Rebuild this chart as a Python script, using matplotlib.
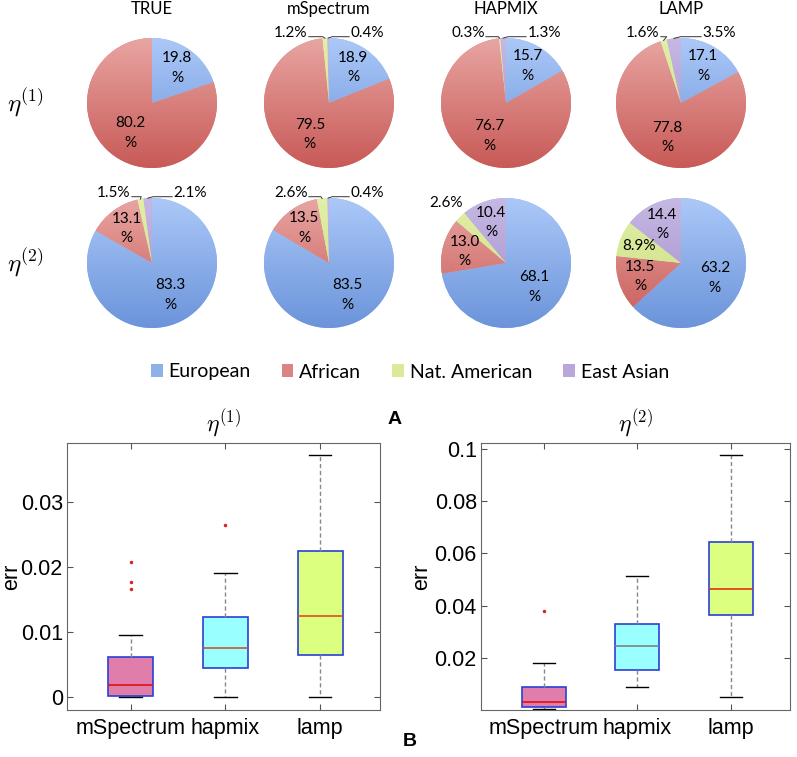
import numpy as np
import matplotlib
matplotlib.use('Agg')
import matplotlib.pyplot as plt
from matplotlib.patches import Patch
from matplotlib.colors import to_rgb

plt.rcParams['mathtext.fontset'] = 'cm'

# ---- data ----
methods = ['TRUE', 'mSpectrum', 'HAPMIX', 'LAMP']
groups = ['European', 'African', 'Nat. American', 'East Asian']
eta1 = [[19.8, 80.2, 0.0, 0.0],
        [18.9, 79.5, 1.2, 0.4],
        [15.7, 76.7, 0.3, 1.3],
        [17.1, 77.8, 1.6, 3.5]]
eta2 = [[83.3, 13.1, 1.5, 2.1],
        [83.5, 13.5, 2.6, 0.4],
        [68.1, 13.0, 2.6, 10.4],
        [63.2, 13.5, 8.9, 14.4]]
pie_colors = ['#8fb1ea', '#da8583', '#dbea98', '#b8a7d8']
# lighter top / darker bottom shading of each slice colour
pie_top = ['#abc8f8', '#e8a5a2', '#e2f0a8', '#c6b8e3']
pie_bot = ['#6b94da', '#c85a57', '#c8dc7e', '#a18bca']

box_names = ['mSpectrum', 'hapmix', 'lamp']
# (whislo, q1, med, q3, whishi, fliers)
err1 = [(0.0, 0.0002, 0.0018, 0.0062, 0.0096, [0.0208, 0.0177, 0.0166]),
        (0.0, 0.0045, 0.0075, 0.0123, 0.0191, [0.0265]),
        (0.0, 0.0065, 0.0124, 0.0225, 0.0372, [])]
err2 = [(0.0003, 0.0011, 0.0031, 0.0088, 0.0179, [0.0378]),
        (0.0090, 0.0154, 0.0247, 0.0330, 0.0512, []),
        (0.0048, 0.0364, 0.0464, 0.0645, 0.0978, [])]
box_colors = ['#e07daa', '#99ffff', '#ddff80']

W, H = 797, 757
fig = plt.figure(figsize=(W / 100, H / 100), dpi=100)

pie_font = 'Lato'
R = 65.0
cxs = [152, 329, 506, 681]
cys = [103, 263]


def add_px_axes(x0, y0, x1, y1):
    return fig.add_axes([x0 / W, 1 - y1 / H, (x1 - x0) / W, (y1 - y0) / H])


def gradient(c_top, c_bot, n=128):
    t = np.linspace(0, 1, n)[:, None]
    a, b = np.array(to_rgb(c_top)), np.array(to_rgb(c_bot))
    return (a[None, :] * (1 - t) + b[None, :] * t)[:, None, :]


def draw_pie(cx, cy, vals):
    S = 180
    ax = add_px_axes(cx - S / 2, cy - S / 2, cx + S / 2, cy + S / 2)
    wedges, _ = ax.pie(vals, colors=pie_colors, startangle=90, counterclock=False,
                       radius=1, wedgeprops=dict(edgecolor='none', linewidth=0))
    L = S / (2 * R)
    for k, w in enumerate(wedges):
        im = ax.imshow(gradient(pie_top[k], pie_bot[k]), extent=(-1, 1, -1, 1),
                       aspect='auto', interpolation='bilinear', zorder=w.get_zorder() + 0.1)
        im.set_clip_path(w)
    ax.set_xlim(-L, L); ax.set_ylim(-L, L); ax.axis('off')
    tot = sum(vals)
    for i, (w, v) in enumerate(zip(wedges, vals)):
        if v <= 0:
            continue
        deg = ((w.theta1 + w.theta2) / 2) % 360
        th = np.deg2rad(deg)
        p = 100 * v / tot
        if v >= 10:
            r = 0.57 if p > 40 else 0.66
            ax.text(r * np.cos(th), r * np.sin(th), f'{v:.1f}\n%', ha='center', va='center',
                    fontsize=11, family=pie_font, linespacing=1.5, zorder=5)
        elif v >= 5:
            ax.text(0.7 * np.cos(th), 0.7 * np.sin(th), f'{v:.1f}%', ha='center', va='center',
                    fontsize=11, family=pie_font, zorder=5)
        elif abs(deg - 90) < 25:
            side = -1 if i == 2 else 1
            ax.text(side * 0.33, 0.97, f'{v:.1f}%', ha='right' if side < 0 else 'left',
                    va='bottom', fontsize=11, family=pie_font, zorder=5)
            ax.plot([side * 0.31, (side * 0.1 + np.cos(th)) * 0.6, np.cos(th)],
                    [1.02, 1.02, np.sin(th)], color='#333333', lw=0.7, zorder=5)
        else:
            ax.text(1.3 * np.cos(th), 1.3 * np.sin(th), f'{v:.1f}%', ha='center', va='center',
                    fontsize=11, family=pie_font, zorder=5)


for j, m in enumerate(methods):
    fig.text(cxs[j] / W, 1 - 9 / H, m, ha='center', va='center', fontsize=12, family=pie_font)
    draw_pie(cxs[j], cys[0], eta1[j])
    draw_pie(cxs[j], cys[1], eta2[j])

fig.text(25 / W, 1 - 103 / H, r'$\eta^{(1)}$', ha='center', va='center', fontsize=18)
fig.text(25 / W, 1 - 263 / H, r'$\eta^{(2)}$', ha='center', va='center', fontsize=18)

handles = [Patch(facecolor=c, edgecolor='none') for c in pie_colors]
fig.legend(handles, groups, loc='center', bbox_to_anchor=(410 / W, 1 - 372 / H), ncol=4,
           frameon=False, handlelength=0.6, handleheight=0.6, handletextpad=0.3,
           columnspacing=1.6, prop={'family': pie_font, 'size': 14})

fig.text(395 / W, 1 - 420 / H, 'A', ha='center', va='center', fontsize=14,
         fontweight='bold', family='Liberation Sans')
fig.text(410 / W, 1 - 742 / H, 'B', ha='center', va='center', fontsize=14,
         fontweight='bold', family='Liberation Sans')


def draw_box(ax, data, med_colors, title, ylim, yticks, yticklabels):
    stats = []
    for name, (lo, q1, med, q3, hi, fl) in zip(box_names, data):
        stats.append(dict(label=name, whislo=lo, q1=q1, med=med, q3=q3, whishi=hi, fliers=fl))
    res = ax.bxp(stats, positions=[1, 2, 3], widths=0.47, patch_artist=True,
                 boxprops=dict(edgecolor='#2a3fd6', linewidth=1.2),
                 whiskerprops=dict(color='#888888', linestyle=(0, (3, 2)), linewidth=1.0),
                 capprops=dict(color='black', linewidth=1.0),
                 flierprops=dict(marker='.', markerfacecolor='#dd2222', markeredgecolor='#dd2222',
                                 markersize=3))
    for b, c in zip(res['boxes'], box_colors):
        b.set_facecolor(c)
    for mline, c in zip(res['medians'], med_colors):
        mline.set_color(c); mline.set_linewidth(1.2)
    ax.set_xlim(0.33, 3.63)
    ax.set_ylim(*ylim)
    ax.set_yticks(yticks)
    ax.set_yticklabels(yticklabels)
    ax.set_xticks([1, 2, 3])
    ax.set_xticklabels(box_names)
    ax.tick_params(direction='in', top=True, right=True, length=4, color='#555555',
                   labelsize=15.5, pad=3)
    ax.tick_params(axis='x', pad=6)
    for s in ax.spines.values():
        s.set_color('#666666')
    for t in ax.get_xticklabels() + ax.get_yticklabels():
        t.set_family('Liberation Sans')
    ax.set_ylabel('err', fontsize=15.5, family='Liberation Sans', labelpad=2)
    ax.set_title(title, fontsize=17, pad=8)


ax1 = add_px_axes(67, 443, 380, 710)
draw_box(ax1, err1, ['#dd1111', '#c8553a', '#e05020'], r'$\eta^{(1)}$', (-0.002, 0.0391),
         [0, 0.01, 0.02, 0.03], ['0', '0.01', '0.02', '0.03'])
ax1.yaxis.set_label_coords(-45 / 313, 0.5)
ax2 = add_px_axes(481, 443, 790, 710)
draw_box(ax2, err2, ['#dd1111', '#808080', '#dd3311'], r'$\eta^{(2)}$', (0.0, 0.1023),
         [0.02, 0.04, 0.06, 0.08, 0.1], ['0.02', '0.04', '0.06', '0.08', '0.1'])

fig.savefig('out.png', dpi=100)
